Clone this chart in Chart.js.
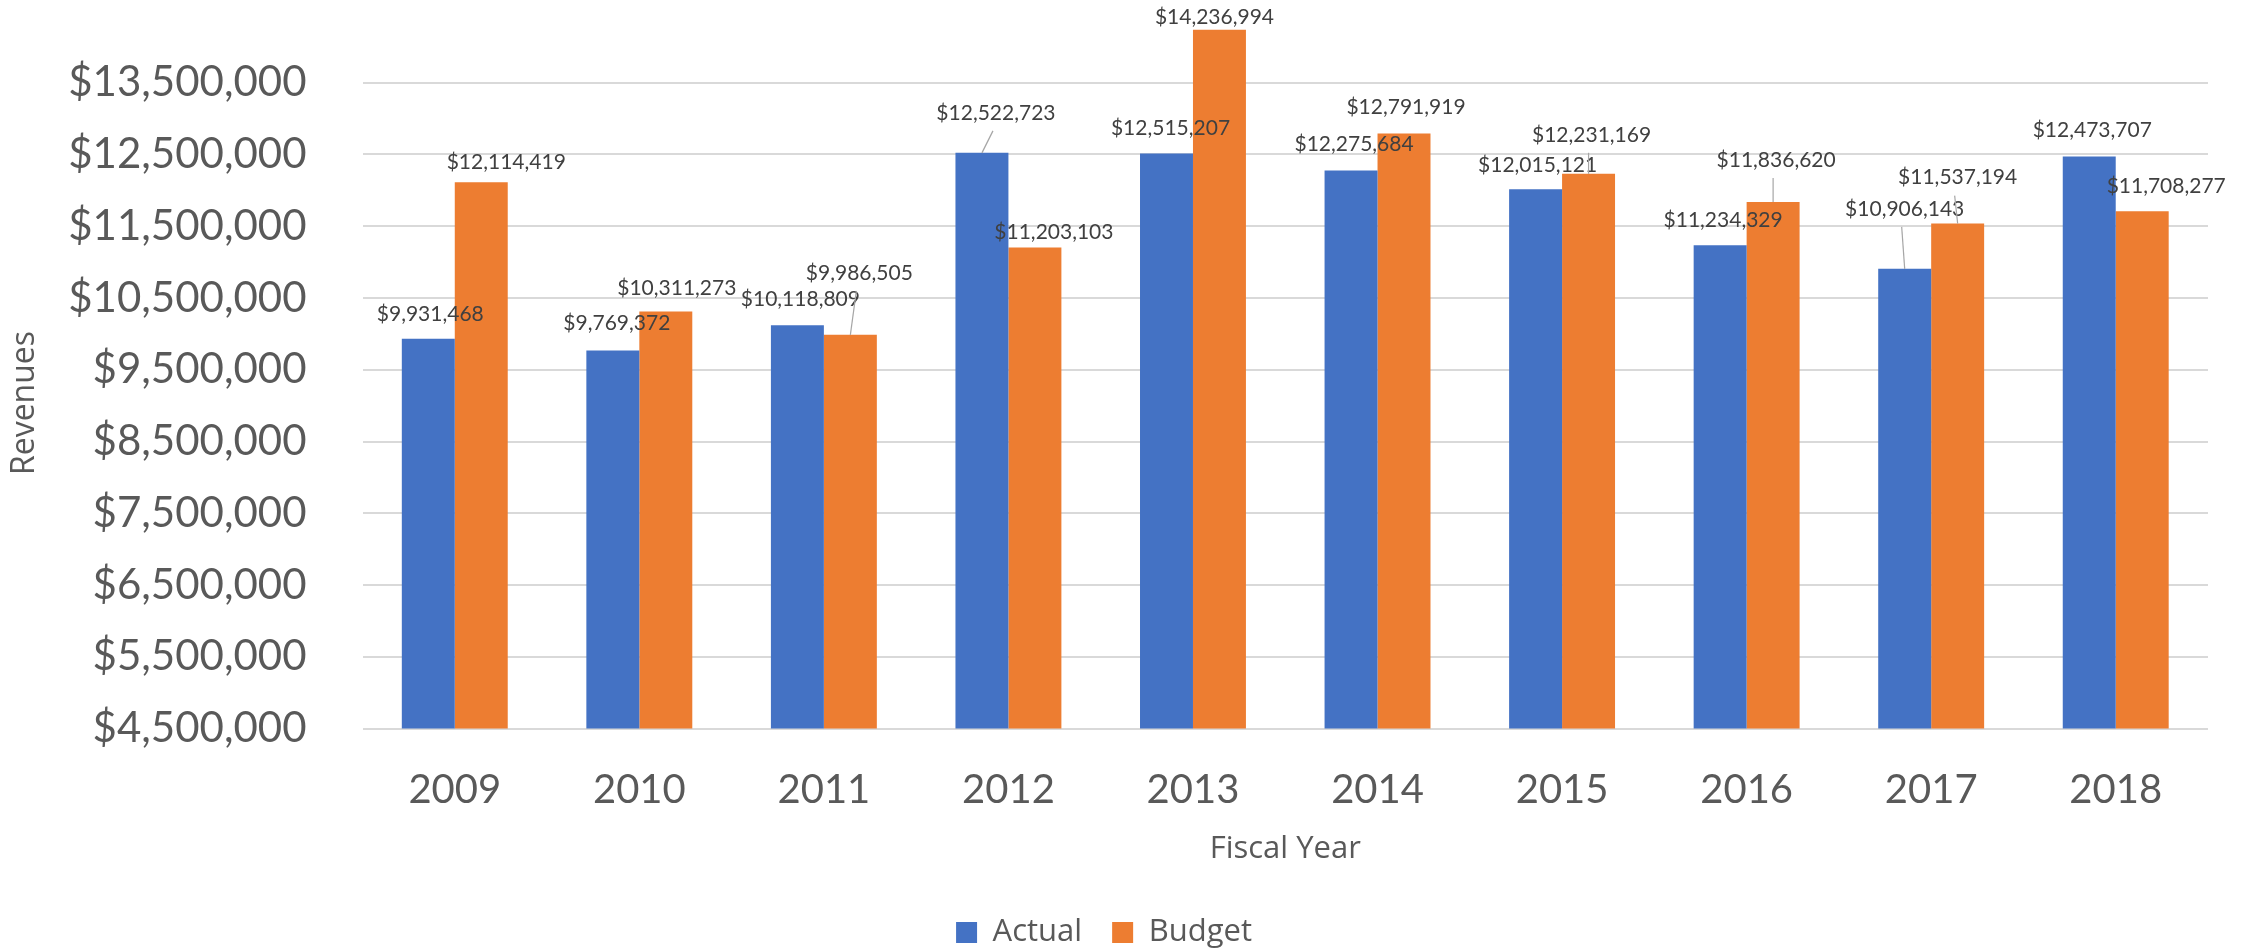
<!DOCTYPE html>
<html>
<head>
<meta charset="utf-8">
<script src="https://cdn.jsdelivr.net/npm/chart.js@4.4.1/dist/chart.umd.min.js"></script>
<style>
  html, body { margin: 0; padding: 0; background: #ffffff; overflow: hidden; }
  #wrap { width: 2254px; height: 950px; }
</style>
</head>
<body>
<div id="wrap"><canvas id="c" width="2254" height="950"></canvas></div>
<script>
// ---- data ----
const years = ['2009', '2010', '2011', '2012', '2013', '2014', '2015', '2016', '2017', '2018'];
const actual = [9931468, 9769372, 10118809, 12522723, 12515207, 12275684, 12015121, 11234329, 10906143, 12473707];
const budget = [12114419, 10311273, 9986505, 11203103, 14236994, 12791919, 12231169, 11836620, 11537194, 11708277];
const yMin = 4500000;
const yMax = 14500000;
const yStep = 1000000;

// ---- label nudges (layout only, px relative to default spot above bar) ----
const actualLabelNudge = [[2,0],[4,-2],[3,-1],[14,-15],[4,0],[3,-1],[2,1],[3,0],[0,-35],[3,-1]];
const budgetLabelNudge = [[25,5],[11,2],[9,-37],[19,10],[-5,12],[2,-1],[3,-14],[3,-17],[0,-21],[24,0]];

const money = v => '$' + Math.round(v).toLocaleString('en-US');
const TICK_FONT = 'Lato, "Open Sans", sans-serif';
const TITLE_FONT = '"Open Sans", Lato, sans-serif';

const dataLabels = {
  id: 'dataLabels',
  afterDatasetsDraw(chart) {
    const ctx = chart.ctx;
    const nudges = [actualLabelNudge, budgetLabelNudge];
    ctx.save();
    ctx.font = '21px ' + TICK_FONT;
    ctx.fillStyle = '#404040';
    ctx.textAlign = 'center';
    ctx.textBaseline = 'middle';
    chart.data.datasets.forEach((ds, di) => {
      const meta = chart.getDatasetMeta(di);
      meta.data.forEach((bar, i) => {
        const [dx, dy] = nudges[di][i];
        const lx = bar.x + dx;
        const ly = bar.y - 25 + dy;
        if (dy <= -10) {
          ctx.strokeStyle = '#a6a6a6';
          ctx.lineWidth = 1.2;
          ctx.beginPath();
          ctx.moveTo(lx - 3, ly + 18);
          ctx.lineTo(bar.x, bar.y);
          ctx.stroke();
        }
        ctx.fillText(money(ds.data[i]), lx, ly);
      });
    });
    ctx.restore();
  }
};

const legendShift = {
  id: 'legendShift',
  afterLayout(chart) {
    if (chart.legend) { chart.legend.top += 8; chart.legend.bottom += 8; }
  }
};

new Chart(document.getElementById('c'), {
  type: 'bar',
  data: {
    labels: years,
    datasets: [
      { label: 'Actual', data: actual, backgroundColor: '#4472C4', borderWidth: 0 },
      { label: 'Budget', data: budget, backgroundColor: '#ED7D31', borderWidth: 0 }
    ]
  },
  options: {
    responsive: false,
    devicePixelRatio: 1,
    animation: false,
    categoryPercentage: 0.574,
    barPercentage: 1.0,
    layout: { padding: { top: 11, right: 46, left: 0, bottom: 0 } },
    plugins: {
      tooltip: { enabled: false },
      legend: {
        position: 'bottom',
        labels: {
          font: { family: TITLE_FONT, size: 31 },
          color: '#595959',
          boxWidth: 21,
          boxHeight: 21,
          padding: 30
        }
      }
    },
    scales: {
      x: {
        grid: { display: false },
        border: { display: false },
        ticks: {
          font: { family: TICK_FONT, size: 40 },
          color: '#595959',
          padding: 30
        },
        title: {
          display: true,
          text: 'Fiscal Year',
          font: { family: TITLE_FONT, size: 31 },
          color: '#595959',
          padding: { top: 0, bottom: 11 }
        },
        afterFit(scale) { scale.height = 150.5; }
      },
      y: {
        min: yMin,
        max: yMax,
        border: { display: false },
        grid: { color: '#d9d9d9', lineWidth: 2, drawTicks: false },
        ticks: {
          stepSize: yStep,
          font: { family: TICK_FONT, size: 42 },
          color: '#595959',
          padding: 56,
          callback: v => money(v)
        },
        afterBuildTicks(scale) {
          scale.ticks = scale.ticks.filter(t => t.value <= yMax - yStep);
        },
        title: {
          display: true,
          text: 'Revenues' + '\u00A0'.repeat(8),
          font: { family: TITLE_FONT, size: 32 },
          color: '#595959',
          padding: { top: 6, bottom: 0 }
        },
        afterFit(scale) {
          scale.width = 362.5;
          scale.paddingTop = 0;
          scale.paddingBottom = 0;
        }
      }
    }
  },
  plugins: [dataLabels, legendShift]
});
</script>
</body>
</html>
